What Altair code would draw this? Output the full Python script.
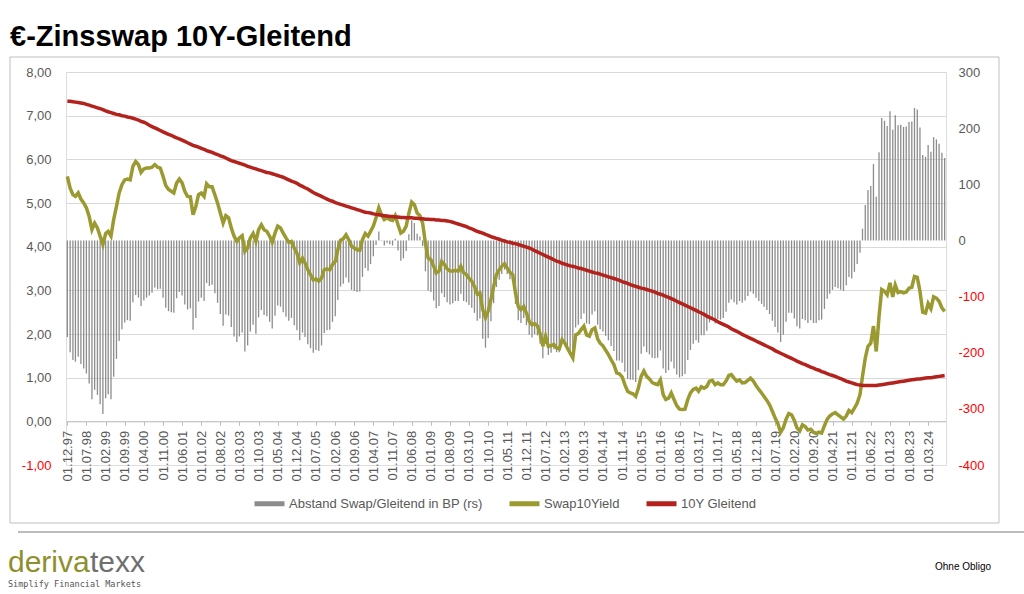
import altair as alt
import pandas as pd

# ---------------- data ----------------
# monthly observations, Dec 1997 .. Sep 2024
months = pd.date_range("1997-12-01", periods=322, freq="MS")

swap10 = [
    5.61, 5.34, 5.19, 5.15, 5.23, 5.09, 5.00, 4.89, 4.69, 4.39, 4.54, 4.43,
    4.24, 4.05, 4.30, 4.35, 4.24, 4.62, 4.92, 5.23, 5.42, 5.53, 5.55, 5.53,
    5.84, 5.95, 5.88, 5.70, 5.78, 5.80, 5.80, 5.82, 5.88, 5.82, 5.80, 5.61,
    5.40, 5.31, 5.27, 5.23, 5.46, 5.55, 5.46, 5.27, 5.15, 5.14, 4.73, 4.92,
    5.19, 5.23, 5.15, 5.44, 5.37, 5.37, 5.19, 5.00, 4.77, 4.54, 4.71, 4.66,
    4.43, 4.24, 4.12, 4.20, 4.25, 3.89, 3.97, 4.20, 4.30, 4.12, 4.39, 4.50,
    4.39, 4.35, 4.24, 4.10, 4.31, 4.47, 4.43, 4.31, 4.20, 4.10, 4.12, 3.97,
    3.85, 3.63, 3.74, 3.63, 3.47, 3.36, 3.24, 3.26, 3.21, 3.28, 3.47, 3.49,
    3.47, 3.59, 3.66, 3.93, 4.15, 4.18, 4.27, 4.16, 4.01, 3.97, 3.93, 3.92,
    4.16, 4.30, 4.24, 4.35, 4.47, 4.66, 4.89, 4.73, 4.62, 4.66, 4.62, 4.60,
    4.71, 4.50, 4.31, 4.35, 4.47, 4.77, 5.02, 4.96, 4.77, 4.71, 4.54, 4.08,
    3.74, 3.70, 3.55, 3.40, 3.44, 3.66, 3.59, 3.49, 3.44, 3.44, 3.46, 3.44,
    3.55, 3.40, 3.36, 3.28, 3.21, 3.09, 2.92, 2.94, 2.56, 2.37, 2.52, 2.79,
    3.09, 3.36, 3.47, 3.55, 3.61, 3.51, 3.41, 3.36, 2.94, 2.63, 2.56, 2.63,
    2.48, 2.29, 2.21, 2.24, 2.19, 2.01, 1.72, 1.95, 1.72, 1.73, 1.76, 1.68,
    1.66, 1.87, 1.79, 1.68, 1.56, 1.45, 1.98, 2.01, 2.10, 2.18, 1.98, 1.95,
    2.10, 2.14, 1.89, 1.79, 1.73, 1.63, 1.53, 1.41, 1.30, 1.11, 1.09, 1.02,
    0.84, 0.69, 0.65, 0.63, 0.57, 0.76, 1.03, 1.15, 1.03, 0.97, 0.89, 0.86,
    0.84, 0.95, 0.61, 0.50, 0.53, 0.65, 0.50, 0.36, 0.28, 0.27, 0.28, 0.50,
    0.65, 0.73, 0.76, 0.69, 0.79, 0.76, 0.80, 0.92, 0.94, 0.84, 0.88, 0.84,
    0.84, 0.92, 1.05, 1.07, 0.99, 0.92, 0.95, 0.88, 0.89, 0.94, 0.99, 0.92,
    0.82, 0.73, 0.65, 0.57, 0.48, 0.38, 0.23, 0.08, -0.05, -0.25, -0.15, 0.05,
    0.18, 0.15, 0.02, -0.15, -0.22, -0.08, -0.12, -0.20, -0.18, -0.25, -0.28, -0.25,
    -0.27, -0.10, 0.05, 0.12, 0.17, 0.20, 0.15, 0.10, 0.05, 0.12, 0.25, 0.20,
    0.30, 0.42, 0.61, 1.03, 1.45, 1.72, 1.79, 2.18, 1.60, 2.40, 3.02, 2.98,
    2.90, 3.17, 2.85, 3.12, 2.95, 2.97, 2.94, 2.96, 3.05, 3.07, 3.32, 3.30,
    2.98, 2.50, 2.48, 2.70, 2.58, 2.85, 2.82, 2.75, 2.60, 2.52,
]

gleitend10 = [
    7.33, 7.33, 7.32, 7.31, 7.30, 7.29, 7.28, 7.26, 7.24, 7.22, 7.20, 7.18,
    7.16, 7.14, 7.11, 7.09, 7.07, 7.05, 7.03, 7.02, 7.00, 6.99, 6.97, 6.96,
    6.94, 6.92, 6.90, 6.87, 6.85, 6.82, 6.78, 6.75, 6.72, 6.69, 6.66, 6.63,
    6.60, 6.57, 6.55, 6.52, 6.49, 6.47, 6.44, 6.41, 6.38, 6.35, 6.32, 6.30,
    6.28, 6.25, 6.23, 6.20, 6.18, 6.16, 6.13, 6.11, 6.08, 6.06, 6.03, 6.00,
    5.97, 5.95, 5.93, 5.91, 5.89, 5.87, 5.84, 5.82, 5.80, 5.78, 5.76, 5.74,
    5.72, 5.70, 5.69, 5.67, 5.65, 5.63, 5.61, 5.59, 5.56, 5.53, 5.50, 5.48,
    5.45, 5.41, 5.38, 5.35, 5.32, 5.28, 5.24, 5.21, 5.18, 5.15, 5.12, 5.09,
    5.06, 5.04, 5.01, 4.99, 4.97, 4.95, 4.93, 4.91, 4.89, 4.87, 4.85, 4.83,
    4.81, 4.79, 4.78, 4.77, 4.75, 4.74, 4.73, 4.72, 4.71, 4.70, 4.69, 4.69,
    4.68, 4.68, 4.67, 4.67, 4.66, 4.66, 4.66, 4.65, 4.65, 4.64, 4.64, 4.63,
    4.63, 4.62, 4.62, 4.61, 4.61, 4.60, 4.60, 4.59, 4.58, 4.56, 4.54, 4.52,
    4.50, 4.48, 4.46, 4.43, 4.41, 4.38, 4.35, 4.33, 4.31, 4.28, 4.26, 4.23,
    4.21, 4.19, 4.17, 4.15, 4.13, 4.11, 4.10, 4.08, 4.07, 4.05, 4.03, 4.01,
    3.99, 3.97, 3.94, 3.91, 3.88, 3.85, 3.82, 3.79, 3.76, 3.73, 3.70, 3.67,
    3.65, 3.62, 3.60, 3.58, 3.56, 3.55, 3.53, 3.51, 3.50, 3.48, 3.46, 3.44,
    3.42, 3.40, 3.39, 3.37, 3.35, 3.33, 3.31, 3.29, 3.27, 3.25, 3.23, 3.20,
    3.18, 3.16, 3.13, 3.11, 3.09, 3.07, 3.05, 3.04, 3.02, 3.00, 2.98, 2.96,
    2.93, 2.91, 2.89, 2.86, 2.84, 2.81, 2.78, 2.75, 2.72, 2.69, 2.66, 2.63,
    2.60, 2.57, 2.54, 2.51, 2.48, 2.45, 2.41, 2.38, 2.35, 2.32, 2.28, 2.25,
    2.22, 2.19, 2.16, 2.12, 2.09, 2.06, 2.03, 1.99, 1.96, 1.93, 1.90, 1.87,
    1.84, 1.81, 1.78, 1.75, 1.72, 1.69, 1.66, 1.62, 1.59, 1.56, 1.53, 1.50,
    1.47, 1.44, 1.41, 1.38, 1.35, 1.32, 1.30, 1.27, 1.24, 1.22, 1.19, 1.17,
    1.14, 1.12, 1.09, 1.07, 1.05, 1.03, 1.00, 0.98, 0.95, 0.92, 0.90, 0.88,
    0.86, 0.84, 0.83, 0.82, 0.82, 0.82, 0.82, 0.82, 0.82, 0.83, 0.84, 0.85,
    0.86, 0.87, 0.88, 0.89, 0.90, 0.91, 0.92, 0.93, 0.94, 0.95, 0.96, 0.97,
    0.97, 0.98, 0.99, 1.00, 1.00, 1.01, 1.02, 1.03, 1.04, 1.05,
]

# x-axis tick labels: every 7th month starting 01.12.97
tick_dates = pd.date_range("1997-12-01", periods=46, freq="7MS")

series_names = ["Abstand Swap/Gleitend in BP (rs)", "Swap10Yield", "10Y Gleitend"]
series_colors = ["#8c8c8c", "#9a9a30", "#b3221c"]

# ---------------- table ----------------
df = pd.DataFrame({
    "date": months.strftime("%Y-%m-%d"),
    "swap": swap10,
    "gleit": gleitend10,
})
# "Abstand Swap/Gleitend in BP" = distance of the two plotted series, in basis points
df["spread"] = ((df["swap"] - df["gleit"]) * 100).round(0)
df["zero"] = 0
df["series"] = "10Y Gleitend"

FONT = "Liberation Sans"
LABEL = "#595959"
NEG = "#ff0000"

tick_vals = [alt.DateTime(year=int(d.year), month=int(d.month), date=1, utc=True) for d in tick_dates]

x_enc = alt.X(
    "date:T",
    title=None,
    scale=alt.Scale(
        type="utc",
        domain=[alt.DateTime(year=1997, month=11, date=16, utc=True),
                alt.DateTime(year=2024, month=9, date=16, utc=True)],
    ),
    axis=alt.Axis(
        values=tick_vals,
        labelExpr="utcFormat(datum.value, '%d.%m.%y')",
        labelAngle=-90,
        labelAlign="right",
        labelBaseline="middle",
        labelFontSize=13,
        labelColor=LABEL,
        labelPadding=5,
        labelOverlap=False,
        labelFlush=False,
        offset=-43.7,
        grid=False,
        domainColor="#bfbfbf",
        tickColor="#bfbfbf",
        tickSize=4,
    ),
)

left_axis = alt.Axis(
    values=list(range(-1, 9)),
    labelExpr="(datum.value < 0 ? '-' : '') + replace(format(abs(datum.value), '.2f'), '.', ',')",
    labelColor={"condition": {"test": "datum.value < 0", "value": NEG}, "value": LABEL},
    gridOpacity={"condition": {"test": "datum.value < 0", "value": 0}, "value": 1},
    gridColor="#d9d9d9",
    grid=True,
    domain=False,
    ticks=False,
    labelFontSize=13,
    labelPadding=15,
)
left_scale = alt.Scale(domain=[-1, 8], nice=False, zero=False)

right_axis = alt.Axis(
    orient="right",
    values=list(range(-400, 301, 100)),
    labelExpr="(datum.value < 0 ? '-' : '') + format(abs(datum.value), 'd')",
    labelColor={"condition": {"test": "datum.value < 0", "value": NEG}, "value": LABEL},
    grid=False,
    domain=False,
    ticks=False,
    labelFontSize=13,
    labelPadding=12,
)

base = alt.Chart(df)

bars = base.mark_rule(strokeWidth=1.3, color=series_colors[0]).encode(
    x=x_enc,
    y=alt.Y("spread:Q", title=None, scale=alt.Scale(domain=[-400, 300], nice=False), axis=right_axis),
    y2=alt.Y2("zero:Q"),
)

swap_line = base.mark_line(strokeWidth=3.5, color=series_colors[1]).encode(
    x=x_enc,
    y=alt.Y("swap:Q", title=None, scale=left_scale, axis=left_axis),
)

gleit_line = base.mark_line(strokeWidth=3.5).encode(
    x=x_enc,
    y=alt.Y("gleit:Q", title=None, scale=left_scale, axis=left_axis),
    color=alt.Color(
        "series:N",
        scale=alt.Scale(domain=series_names, range=series_colors),
        legend=alt.Legend(
            title=None,
            orient="none",
            legendX=186,
            legendY=414,
            direction="horizontal",
            symbolType="stroke",
            symbolSize=900,
            symbolStrokeWidth=5,
            labelFontSize=13,
            labelColor=LABEL,
            labelFont=FONT,
            labelLimit=0,
            columnPadding=16,
            labelOffset=2,
        ),
    ),
)

lines = alt.layer(swap_line, gleit_line)

# ---------------- page decoration ----------------
one = pd.DataFrame({"k": [0]})
frame = alt.Chart(one).mark_rect(fillOpacity=0, stroke="#bfbfbf", strokeWidth=1).encode(
    x=alt.value(-56), x2=alt.value(933), y=alt.value(-15), y2=alt.value(451)
)
sep = alt.Chart(one).mark_rule(color="#a6a6a6", strokeWidth=1.5).encode(
    x=alt.value(-48), x2=alt.value(958), y=alt.value(460)
)
title = alt.Chart(one).mark_text(
    align="left", baseline="alphabetic", fontSize=29, fontWeight="bold", font=FONT, color="#000000"
).encode(x=alt.value(-56), y=alt.value(-26), text=alt.value("€-Zinsswap 10Y-Gleitend"))
logo1 = alt.Chart(one).mark_text(
    align="left", baseline="alphabetic", fontSize=30, font=FONT, color="#8e8f2c"
).encode(x=alt.value(-58), y=alt.value(500), text=alt.value("deriva"))
logo2 = alt.Chart(one).mark_text(
    align="left", baseline="alphabetic", fontSize=30, font=FONT, color="#6f6f6f"
).encode(x=alt.value(24), y=alt.value(500), text=alt.value("texx"))
tagline = alt.Chart(one).mark_text(
    align="left", baseline="alphabetic", fontSize=8.5, font="DejaVu Sans Mono", color="#555555"
).encode(x=alt.value(-58), y=alt.value(515), text=alt.value("Simplify Financial Markets"))
obligo = alt.Chart(one).mark_text(
    align="left", baseline="alphabetic", fontSize=10, font=FONT, color="#000000"
).encode(x=alt.value(869), y=alt.value(498), text=alt.value("Ohne Obligo"))

chart = alt.layer(
    bars, lines, frame, sep, title, logo1, logo2, tagline, obligo
).resolve_scale(
    y="independent"
).properties(
    width=880,
    height=393,
    autosize=alt.AutoSizeParams(type="none"),
    padding={"left": 66, "top": 72, "right": 78, "bottom": 129},
    background="#ffffff",
).configure_view(
    stroke=None
).configure(
    font=FONT
)

chart.save("out.html", embed_options={"renderer": "svg", "actions": False})
